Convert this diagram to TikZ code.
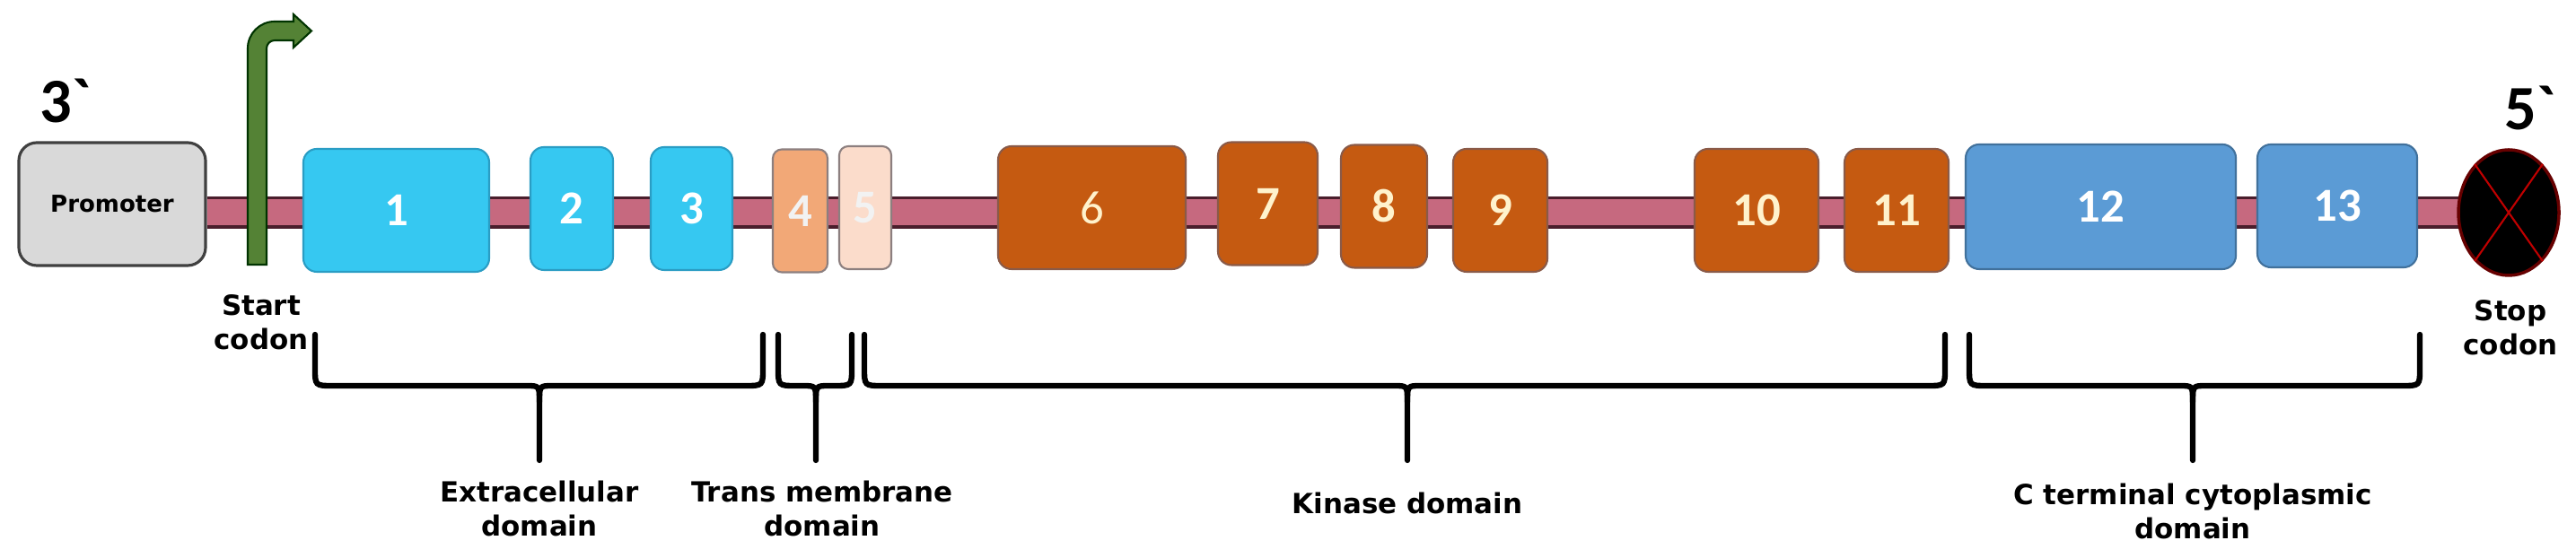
\documentclass[tikz,border=0pt]{standalone}
\usepackage{fontspec}
\setmainfont{DejaVu Sans}
\newfontfamily\numfont{Carlito}
\usepackage{tikz}
\usetikzlibrary{shapes.geometric,positioning,backgrounds}

\definecolor{barpink}{HTML}{C6697F}
\definecolor{barline}{HTML}{4A1E2C}
\definecolor{promgray}{HTML}{D9D9D9}
\definecolor{cyanex}{HTML}{36C8F1}
\definecolor{cyanedge}{HTML}{2A9DC4}
\definecolor{peachex}{HTML}{F2A877}
\definecolor{paleex}{HTML}{FBDCCB}
\definecolor{grayedge}{HTML}{8C7F7F}
\definecolor{orangeex}{HTML}{C55A11}
\definecolor{orangeedge}{HTML}{8A5A48}
\definecolor{blueex}{HTML}{5B9BD5}
\definecolor{blueedge}{HTML}{41719C}
\definecolor{startgreen}{HTML}{548235}
\definecolor{cream}{HTML}{FFF2CC}

% curly bracket under a group of exons: left x, tip x, right x, name of tip
\newcommand{\domainbrace}[4]{%
  \draw[bracket] (#1,-3.73) -- (#1,-4.10) .. controls (#1,-4.30) .. (#1+.2,-4.30)
    -- (#2-.15,-4.30) .. controls (#2,-4.30) .. (#2,-4.48) -- (#2,-5.13) coordinate (#4);
  \draw[bracket] (#3,-3.73) -- (#3,-4.10) .. controls (#3,-4.30) .. (#3-.2,-4.30)
    -- (#2+.15,-4.30) .. controls (#2,-4.30) .. (#2,-4.48);
}

\begin{document}
\begin{tikzpicture}[
    exon/.style={rounded corners=.15cm, minimum height=1.37cm, line width=.6pt,
      inner sep=0pt, text=white, font=\numfont\bfseries\fontsize{15}{15}\selectfont},
    cyanexon/.style={exon, fill=cyanex, draw=cyanedge},
    peachexon/.style={exon, fill=#1, draw=grayedge, text=white!90!gray},
    orangeexon/.style={exon, fill=orangeex, draw=orangeedge, text=cream},
    blueexon/.style={exon, fill=blueex, draw=blueedge},
    dnabar/.style={draw=barline, line width=.035cm, double=barpink, double distance=.29cm},
    bracket/.style={line width=1.8pt, line cap=round},
    domainlabel/.style={font=\bfseries\fontsize{8.8}{10.8}\selectfont, align=center, inner sep=0pt},
    endlabel/.style={font=\numfont\bfseries\fontsize{20}{20}\selectfont, inner sep=0pt}
  ]
  \useasboundingbox (0,0) rectangle (28.70,-6.22);

  \node[rounded corners=.2cm, fill=promgray, draw=black!75, line width=.9pt,
    minimum width=2.08cm, minimum height=1.37cm, inner sep=0pt,
    font=\bfseries\fontsize{7.4}{8}\selectfont] (promoter) at (1.25,-2.275) {Promoter};
  \node[endlabel] (threeprime) at (0.73,-1.12) {3\textasciigrave};

  % exons
  \node[cyanexon, minimum width=2.07cm] (ex1) at (4.415,-2.345) {1};
  \node[cyanexon, minimum width=0.92cm] (ex2) at (6.37,-2.325) {2};
  \node[cyanexon, minimum width=0.91cm] (ex3) at (7.705,-2.325) {3};
  \node[peachexon=peachex, minimum width=0.61cm, rounded corners=.1cm] (ex4) at (8.915,-2.35) {4};
  \node[peachexon=paleex, minimum width=0.58cm, rounded corners=.1cm] (ex5) at (9.64,-2.315) {5};
  \node[orangeexon, minimum width=2.09cm, font=\numfont\fontsize{15}{15}\selectfont] (ex6) at (12.165,-2.315) {6};
  \node[orangeexon, minimum width=1.11cm] (ex7) at (14.125,-2.27) {7};
  \node[orangeexon, minimum width=0.96cm] (ex8) at (15.42,-2.30) {8};
  \node[orangeexon, minimum width=1.05cm] (ex9) at (16.715,-2.345) {9};
  \node[orangeexon, minimum width=1.38cm] (ex10) at (19.57,-2.345) {10};
  \node[orangeexon, minimum width=1.16cm] (ex11) at (21.13,-2.345) {11};
  \node[blueexon, minimum width=3.01cm, minimum height=1.39cm] (ex12) at (23.405,-2.305) {12};
  \node[blueexon, minimum width=1.78cm] (ex13) at (26.04,-2.295) {13};

  \node[ellipse, fill=black, draw=red!40!black, line width=1pt,
    minimum width=1.12cm, minimum height=1.40cm, inner sep=0pt] (stop) at (27.95,-2.37) {};
  \draw[red!75!black, line width=.6pt] (stop.125) -- (stop.-55) (stop.55) -- (stop.-125);
  \node[endlabel] (fiveprime) at (28.19,-1.20) {5\textasciigrave};

  \begin{scope}[on background layer]
    \fill[white] (0,0) rectangle (28.70,-6.22);
    \draw[dnabar] (promoter.east |- stop.center) -- (stop.center);
  \end{scope}

  % start codon arrow
  \draw[fill=startgreen, draw=black!80!green, line width=.6pt]
    (2.76,-2.95) -- (2.76,-0.54) arc[start angle=180, end angle=90, radius=.3]
    -- (3.27,-0.24) -- (3.27,-0.16) -- (3.47,-0.345) -- (3.27,-0.53) -- (3.27,-0.45)
    -- (3.06,-0.45) arc[start angle=90, end angle=180, radius=.09] -- (2.97,-2.95) -- cycle;
  \node[domainlabel] (startlbl) at (2.91,-3.595) {Start\\codon};
  \node[domainlabel] (stoplbl) at (27.97,-3.65) {Stop\\codon};

  % domains
  \domainbrace{3.51}{6.01}{8.50}{exttip}
  \domainbrace{8.67}{9.09}{9.49}{tmtip}
  \domainbrace{9.63}{15.68}{21.67}{kintip}
  \domainbrace{21.94}{24.43}{26.96}{cttip}

  \node[domainlabel, below=.22cm of exttip] (extlbl) {Extracellular\\domain};
  \node[domainlabel, below=.22cm of tmtip, xshift=.07cm] (tmlbl) {Trans membrane\\domain};
  \node[domainlabel, below=.35cm of kintip] (kinlbl) {Kinase domain};
  \node[domainlabel, below=.25cm of cttip] (ctlbl) {C terminal cytoplasmic\\domain};
\end{tikzpicture}
\end{document}
